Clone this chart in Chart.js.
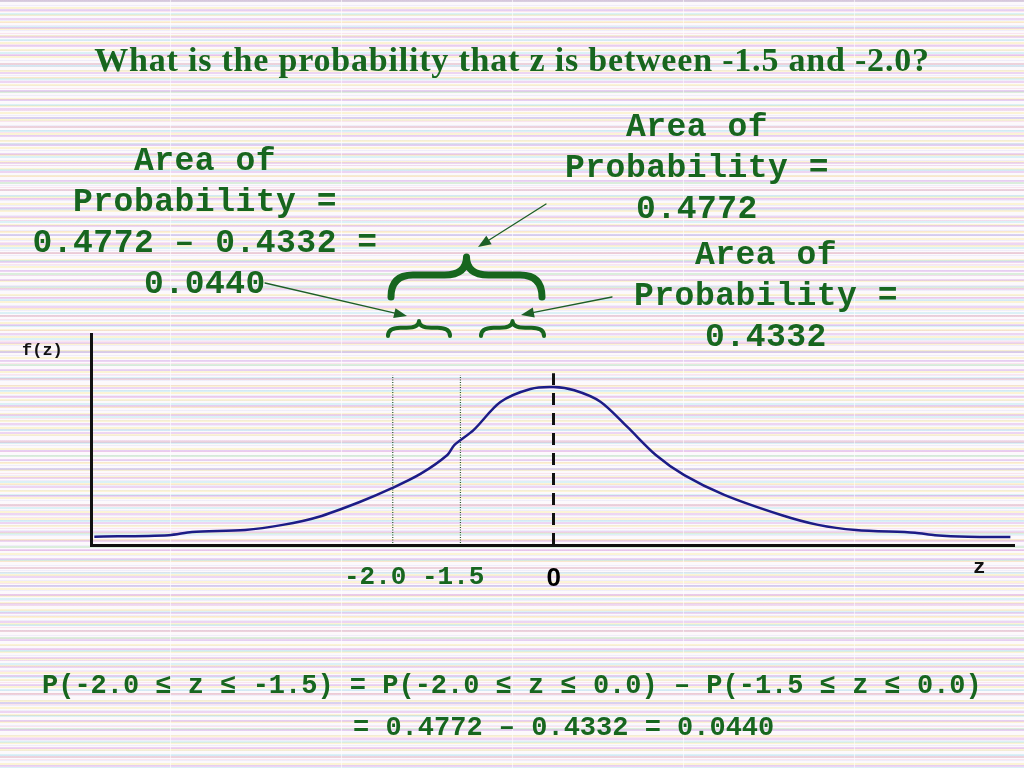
<!DOCTYPE html>
<html>
<head>
<meta charset="utf-8">
<script src="https://cdn.jsdelivr.net/npm/chart.js@4.4.1/dist/chart.umd.min.js"></script>
<style>
  html, body { margin: 0; padding: 0; }
  body {
    width: 1024px; height: 768px; overflow: hidden; position: relative;
    background:
      repeating-linear-gradient(90deg, transparent 0 170px, rgba(255,255,255,0.6) 170px 171px),
      repeating-linear-gradient(180deg, rgba(215,160,230,0.40) 0 2px, transparent 2px 9px),
      repeating-linear-gradient(180deg, rgba(150,225,235,0.32) 0 2px, transparent 2px 13px),
      repeating-linear-gradient(180deg, rgba(250,235,150,0.38) 0 2px, transparent 2px 7px),
      repeating-linear-gradient(180deg, rgba(245,175,205,0.28) 0 1px, transparent 1px 11px),
      repeating-linear-gradient(180deg, rgba(195,195,240,0.22) 0 1px, transparent 1px 5px),
      #fcf9fc;
  }
  #wrap { position: absolute; left: 0; top: 0; width: 1024px; height: 768px; }
  .txt { position: absolute; white-space: pre; color: #17661f; }
  .title { font-family: "Liberation Serif", serif; font-weight: bold; font-size: 34px; letter-spacing: 0.8px;
           line-height: 40px; left: 0; width: 1024px; top: 40px; text-align: center; }
  .ann { font-family: "Liberation Mono", "Courier New", monospace; font-weight: bold; font-size: 33px;
         letter-spacing: 0.5px; line-height: 41px; text-align: center; width: 420px; }
  .formula { font-family: "Liberation Mono", "Courier New", monospace; font-weight: bold; font-size: 27px; line-height: 34px; }
  .mono { font-family: "Liberation Mono", "Courier New", monospace; font-weight: bold; }
</style>
</head>
<body>
<div id="wrap"><canvas id="normalChart" width="1024" height="768"></canvas></div>

<div class="txt title">What is the probability that z is between -1.5 and -2.0?</div>

<div class="txt ann" style="left:-5px; top:141px;">Area of
Probability =
0.4772 – 0.4332 =
0.0440</div>
<div class="txt ann" style="left:487px; top:107px;">Area of
Probability =
0.4772</div>
<div class="txt ann" style="left:556px; top:235px;">Area of
Probability =
0.4332</div>

<div class="txt mono" id="fLabel" style="color:#111; font-size:17px; left:22px; top:341px;">f(z)</div>
<div class="txt mono" id="zLabel" style="color:#111; font-size:21px; left:973px; top:556px;">z</div>
<div class="txt mono" id="guideText" style="font-size:26px; left:344px; top:562px;"></div>
<div class="txt" id="zeroText" style="color:#000; font-family:'Liberation Sans', Arial, sans-serif; font-weight:bold; font-size:26px; top:562px;"></div>

<div class="txt formula" style="left:42px; top:669px;">P(-2.0 ≤ z ≤ -1.5) = P(-2.0 ≤ z ≤ 0.0) – P(-1.5 ≤ z ≤ 0.0)</div>
<div class="txt formula" style="left:353px; top:711px;">= 0.4772 – 0.4332 = 0.0440</div>

<script>
// curve f(z) (z in drawing units, 0 at the peak)
const zVals = [-5.97, -5.0, -4.7, -4.01, -3.52, -3.06, -2.52, -2.1, -1.73, -1.38, -1.29, -1.04, -0.69, -0.3,
               0, 0.27, 0.61, 0.96, 1.33, 1.7, 2.22, 2.96, 3.44, 3.93, 4.7, 4.96, 5.39, 5.94];
const fVals = [0.021, 0.025, 0.033, 0.038, 0.051, 0.071, 0.109, 0.144, 0.18, 0.228, 0.253, 0.291, 0.362, 0.395,
               0.4, 0.392, 0.363, 0.299, 0.228, 0.177, 0.127, 0.076, 0.051, 0.038, 0.031, 0.025, 0.021, 0.02];

// dotted guides at the -2.0 and -1.5 marks, dashed line at the mean
const guideZ = [-2.09, -1.21];
const guideLabels = ['-2.0', '-1.5'];
const guideTop = 0.43;
const meanZ = 0;
const meanLabel = '0';
const meanTop = 0.435;

const green = '#17661f';

document.getElementById('guideText').textContent = guideLabels.join(' ');

function drawBrace(ctx, x0, x1, yTip, yEnd, lw) {
  const xc = (x0 + x1) / 2;
  const ym = yTip + (yEnd - yTip) * 0.45;
  const r = Math.min(22, (x1 - x0) / 5);
  ctx.beginPath();
  ctx.moveTo(x0, yEnd);
  ctx.quadraticCurveTo(x0, ym, x0 + r, ym);
  ctx.lineTo(xc - r, ym);
  ctx.quadraticCurveTo(xc, ym, xc, yTip);
  ctx.quadraticCurveTo(xc, ym, xc + r, ym);
  ctx.lineTo(x1 - r, ym);
  ctx.quadraticCurveTo(x1, ym, x1, yEnd);
  ctx.lineWidth = lw;
  ctx.lineCap = 'round';
  ctx.lineJoin = 'round';
  ctx.strokeStyle = green;
  ctx.stroke();
}

function drawArrow(ctx, x0, y0, x1, y1) {
  const a = Math.atan2(y1 - y0, x1 - x0);
  ctx.beginPath();
  ctx.moveTo(x0, y0);
  ctx.lineTo(x1 - 8 * Math.cos(a), y1 - 8 * Math.sin(a));
  ctx.lineWidth = 1.3;
  ctx.strokeStyle = '#1d5f27';
  ctx.stroke();
  ctx.beginPath();
  ctx.moveTo(x1, y1);
  ctx.lineTo(x1 - 13 * Math.cos(a) + 5 * Math.sin(a), y1 - 13 * Math.sin(a) - 5 * Math.cos(a));
  ctx.lineTo(x1 - 13 * Math.cos(a) - 5 * Math.sin(a), y1 - 13 * Math.sin(a) + 5 * Math.cos(a));
  ctx.closePath();
  ctx.fillStyle = '#1d5f27';
  ctx.fill();
}

const slideDecor = {
  id: 'slideDecor',
  afterDraw(chart) {
    const ctx = chart.ctx;
    const a = chart.chartArea;
    ctx.save();
    // axes
    ctx.fillStyle = '#111';
    ctx.fillRect(a.left - 2, a.top, 3, a.bottom - a.top + 2);
    ctx.fillRect(a.left - 2, a.bottom - 1, a.right - a.left + 2, 3);
    // braces and arrows
    drawBrace(ctx, 391, 542, 257, 297, 7);
    drawBrace(ctx, 388, 450, 321, 336, 4);
    drawBrace(ctx, 481, 544, 321, 336, 4);
    drawArrow(ctx, 546, 204, 478, 247);
    drawArrow(ctx, 265, 283, 407, 316);
    drawArrow(ctx, 612, 297, 521, 315);
    ctx.restore();

    const zx = chart.scales.x.getPixelForValue(meanZ);
    const el = document.getElementById('zeroText');
    el.textContent = meanLabel;
    el.style.left = (zx - el.offsetWidth / 2) + 'px';
  }
};

const guideSets = guideZ.map(g => ({
  data: [{ x: g, y: 0.005 }, { x: g, y: guideTop }],
  borderColor: '#2d5a30',
  borderWidth: 1.2,
  borderDash: [1, 1.5],
  pointRadius: 0
}));

new Chart(document.getElementById('normalChart').getContext('2d'), {
  type: 'line',
  data: {
    datasets: [
      {
        label: 'f(z)',
        data: zVals.map((z, i) => ({ x: z, y: fVals[i] })),
        borderColor: '#1c1c86',
        borderWidth: 2.5,
        pointRadius: 0,
        tension: 0.3,
        fill: false
      },
      {
        label: 'mean',
        data: [{ x: meanZ, y: 0 }, { x: meanZ, y: meanTop }],
        borderColor: '#111',
        borderWidth: 3,
        borderDash: [12, 8],
        pointRadius: 0
      },
      ...guideSets
    ]
  },
  options: {
    responsive: false,
    animation: false,
    layout: { padding: { left: 92, right: 9, top: 333, bottom: 223 } },
    plugins: { legend: { display: false }, tooltip: { enabled: false } },
    scales: {
      x: { type: 'linear', display: false, min: -6, max: 6 },
      y: { display: false, min: 0, max: 0.537 }
    }
  },
  plugins: [slideDecor]
});
</script>
</body>
</html>
